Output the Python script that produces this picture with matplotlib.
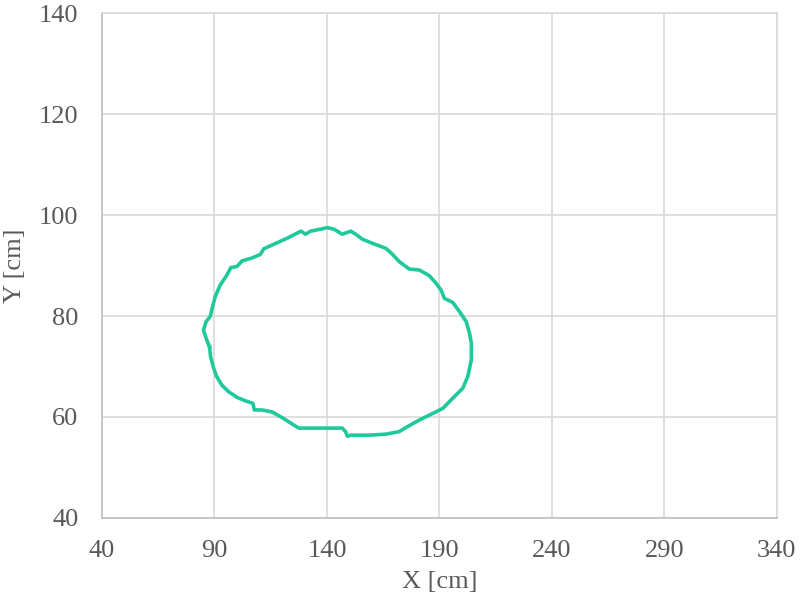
import matplotlib
matplotlib.use("Agg")
import matplotlib.pyplot as plt

# outline traced clockwise, starting at the lower left
x_cm = [87.8, 86.6, 85.1, 86.3, 88.1, 88.8, 90.3, 92.5, 95.5, 97.3,
        100.0, 102.2, 106.7, 110.4, 111.9, 116.3, 122.3, 126.7, 128.5, 130.5,
        132.7, 137.2, 140.1, 143.1, 146.8, 150.6, 152.8, 155.8, 160.2, 166.2,
        169.2, 172.1, 176.6, 181.1, 185.5, 188.5, 190.8, 192.2, 195.9, 198.9,
        201.9, 203.4, 204.2, 204.2, 202.6, 200.4, 195.9, 191.5, 187.0, 181.1,
        175.8, 172.1, 166.2, 158.8, 150.6, 149.1, 148.3, 146.8, 140.1, 127.5,
        125.3, 120.0, 115.6, 111.1, 107.7, 107.1, 103.7, 100.0, 96.3, 93.3,
        91.0, 89.6, 88.3, 87.8]
y_cm = [73.9, 75.2, 77.2, 78.9, 79.9, 81.2, 83.8, 86.1, 88.1, 89.6,
        89.8, 90.9, 91.5, 92.2, 93.3, 94.2, 95.4, 96.4, 96.8, 96.2,
        96.8, 97.2, 97.5, 97.2, 96.2, 96.8, 96.2, 95.2, 94.4, 93.4,
        92.2, 90.8, 89.3, 89.1, 88.0, 86.5, 85.1, 83.5, 82.7, 80.9,
        78.9, 76.6, 74.6, 71.3, 68.0, 65.7, 63.7, 61.7, 60.7, 59.4,
        58.1, 57.1, 56.6, 56.4, 56.4, 56.2, 57.1, 57.8, 57.8, 57.8,
        58.4, 59.9, 61.0, 61.4, 61.4, 62.7, 63.2, 63.9, 65.0, 66.3,
        68.0, 69.7, 71.9, 73.9]

x_ticks = [40, 90, 140, 190, 240, 290, 340]
y_ticks = [40, 60, 80, 100, 120, 140]

plt.rcParams['font.family'] = ['Liberation Serif', 'DejaVu Serif']
grey = '#595959'
gridc = '#d9d9d9'

fig = plt.figure(figsize=(8, 5.93), dpi=100)
ax = fig.add_axes([0.1275, 0.1265, 0.8435, 0.8515])

ax.plot(x_cm, y_cm, color='#1fc99b', lw=2.6, solid_joinstyle='round')

ax.set_xlim(40, 340)
ax.set_ylim(40, 140)
ax.set_xticks(x_ticks)
ax.set_yticks(y_ticks)
ax.grid(True, color=gridc, lw=1.2)
ax.set_axisbelow(True)
for s in ax.spines.values():
    s.set_color(gridc)
    s.set_linewidth(1.2)
ax.spines['left'].set_color('#bfbfbf')
ax.spines['bottom'].set_color('#bfbfbf')
ax.tick_params(length=0, labelsize=19, labelcolor=grey)
ax.tick_params(axis='x', pad=16)
ax.tick_params(axis='y', pad=17)

ax.set_xlabel('X [cm]', fontsize=19, color=grey, labelpad=6)
ax.set_ylabel('Y [cm]', fontsize=19, color=grey, labelpad=9)

fig.savefig('out.png', dpi=100)
